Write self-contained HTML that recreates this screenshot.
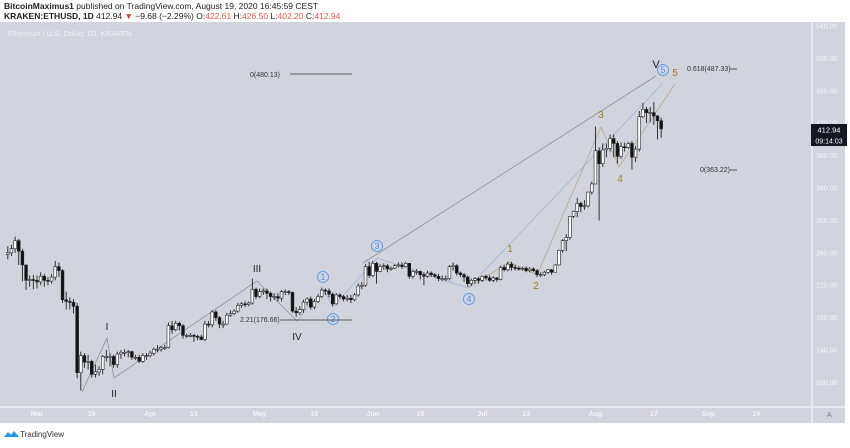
<!DOCTYPE html>
<html><head><meta charset="utf-8"><style>
body{margin:0;width:850px;height:443px;background:#fff;overflow:hidden;font-family:"Liberation Sans",sans-serif}
</style></head><body>
<svg id="c" width="850" height="443" xmlns="http://www.w3.org/2000/svg" font-family="Liberation Sans, sans-serif">
<rect x="0" y="22" width="845" height="401" fill="#d1d4dc"/>
<line x1="812" y1="22" x2="812" y2="423" stroke="#eef0f4" stroke-width="1.5"/>
<line x1="0" y1="407" x2="845" y2="407" stroke="#eef0f4" stroke-width="1.5"/>
<text x="4" y="9" font-size="8.5" fill="#222"><tspan font-weight="bold">BitcoinMaximus1</tspan> published on TradingView.com, August 19, 2020 16:45:59 CEST</text>
<text x="4" y="19" font-size="8.5" fill="#222"><tspan font-weight="bold">KRAKEN:ETHUSD, 1D</tspan> 412.94 <tspan fill="#e53935">▼</tspan> −9.68 (−2.29%) O:<tspan fill="#ef5350">422.61</tspan> H:<tspan fill="#ef5350">426.50</tspan> L:<tspan fill="#ef5350">402.20</tspan> C:<tspan fill="#ef5350">412.94</tspan></text>
<text x="8" y="36" font-size="7.5" fill="#f0f2f6">Ethereum / U.S. Dollar, 1D, KRAKEN</text>
<g id="yax"></g><g id="xax"></g><g id="ann"></g><g id="candles"></g><g id="lbl"></g>
<g><path d="M4 437 l4 -5 l3 3 l3 -4 l5 6 z" fill="#2196f3"/><text x="20" y="437" font-size="8" fill="#333">TradingView</text></g>
<text x="827" y="417" font-size="7" fill="#777">A</text>
</svg>
<script>
const closes=[260,265,275,262,245,226,227,226,
224,231,226,225,230,243,238,202,200,199,194,112,133,125,126,110,113,116,132,132,132,122,135,137,137,138,131,131,126,133,133,
136,141,141,143,143,170,165,173,170,158,158,158,157,156,153,172,171,187,180,172,172,183,185,188,195,197,196,198,215,206,
212,213,210,206,206,204,212,212,211,188,186,190,199,203,193,200,206,214,213,209,197,208,206,203,204,202,208,219,220,243,232,
247,237,243,244,240,241,244,245,243,247,231,237,237,233,231,235,233,231,228,228,228,243,244,235,233,230,222,226,228,226,
231,229,226,229,227,242,239,246,242,241,240,241,238,240,238,233,233,236,239,236,245,263,275,279,305,311,321,317,318,335,345,
386,370,387,389,401,395,379,391,390,395,378,388,428,437,433,433,429,423,413];
const highs=[268,270,280,277,265,240,232,233,
232,236,234,230,234,250,248,240,212,205,203,198,138,136,134,128,122,120,134,140,136,134,138,140,141,140,139,134,134,136,136,
139,143,146,145,146,174,176,176,175,172,160,161,160,159,159,176,176,189,189,182,176,186,189,190,198,199,200,200,228,217,
216,216,216,212,210,210,214,215,214,212,193,194,202,205,206,203,209,217,216,216,211,210,210,208,208,208,210,222,224,246,249,
250,249,246,247,246,243,246,248,248,249,247,239,240,238,236,238,237,235,234,232,232,245,248,246,237,235,232,228,230,230,
232,233,232,231,230,244,245,249,249,245,243,243,243,242,242,240,236,238,240,240,246,264,277,283,305,312,328,323,325,335,348,
416,390,395,395,406,406,398,396,396,397,398,392,435,445,440,440,446,430,427];
const lows=[252,256,260,245,225,214,218,215,
216,220,218,220,222,226,230,198,190,190,185,105,90,118,116,106,106,108,110,126,120,118,118,129,132,131,128,128,124,124,128,
131,133,137,138,140,142,160,163,164,154,155,156,150,152,152,151,168,168,176,167,167,171,181,183,186,192,193,194,196,203,
204,208,203,200,202,200,200,208,208,186,181,183,186,195,190,190,198,204,208,205,194,196,203,200,200,198,200,206,215,218,229,
230,222,236,239,236,238,240,242,240,242,228,228,233,227,220,229,230,229,225,225,225,226,238,232,230,224,218,219,222,222,
224,226,224,224,224,226,237,237,238,238,238,238,236,236,236,230,230,231,234,233,236,244,260,262,276,303,304,310,313,316,332,
346,300,366,378,385,378,370,376,385,388,363,372,385,426,420,421,418,400,402];
const yTicks=[540,500,460,420,380,340,300,260,220,180,140,100];
const xTickLabels=["Mar","16","Apr","13","May","18","Jun","15","Jul","13","Aug","17","Sep","14"];
const xTickDays=[8,23,39,51,69,84,100,113,130,142,161,177,192,205];
const NS="http://www.w3.org/2000/svg";
const X=d=>37+(d-8)*3.65, Y=v=>26+(540-v)*0.81;
function mk(t,a,p){const e=document.createElementNS(NS,t);for(const k in a)e.setAttribute(k,a[k]);p.appendChild(e);return e;}
const yax=document.getElementById('yax');
yTicks.forEach(v=>{const t=mk('text',{x:816,y:Y(v)+2.5,'font-size':7,fill:'#f4f5f8'},yax);t.textContent=v.toFixed(2);

});
const xax=document.getElementById('xax');
xTickLabels.forEach((s,i)=>{const t=mk('text',{x:X(xTickDays[i]),y:416,'font-size':7,fill:'#f4f5f8','text-anchor':'middle','font-weight':'bold'},xax);t.textContent=s;

});
const cg=document.getElementById('candles');
closes.forEach((c,i)=>{const o=i?closes[i-1]:258;const x=X(i);const up=c>=o;
const g=mk('g',{},cg);


mk('line',{x1:x,x2:x,y1:Y(highs[i]),y2:Y(lows[i]),stroke:'#222','stroke-width':0.9},g);
const t=Y(Math.max(o,c)),b=Y(Math.min(o,c));
mk('rect',{x:x-1.4,y:t,width:2.8,height:Math.max(b-t,1),fill:up?'#fff':'#111',stroke:'#222','stroke-width':0.6},g);});
const an=document.getElementById('ann');
function pl(pts,col,name){const p=mk('polyline',{points:pts.map(q=>q.join(',')).join(' '),fill:'none',stroke:col,'stroke-width':0.8},an);

}
pl([[82,392],[107,338],[114,378],[257,281],[297,321]],'#8e9096','wave-roman-line');
pl([[363,263],[656,76]],'#8e9096','wave-v-line');
pl([[297,321],[323,289],[333,307],[377,258],[468,288],[663,83]],'#9db6d8','wave-circled-line');
pl([[468,288],[509,262],[537,275],[601,127],[619,167],[675,84]],'#b8a98a','wave-minor-line');
const lb=document.getElementById('lbl');
function tx(x,y,s,size,col,name,anchor){const t=mk('text',{x:x,y:y,'font-size':size,fill:col,'text-anchor':anchor||'middle'},lb);t.textContent=s;

return t;}
tx(107,330,'I',10,'#222','wave-label-i');tx(114,397,'II',10,'#222','wave-label-ii');tx(257,272,'III',10,'#222','wave-label-iii');tx(297,340,'IV',10,'#222','wave-label-iv');tx(656,68,'V',11,'#222','wave-label-v');
[[323,277,'1'],[333,319,'2'],[377,246,'3'],[469,299,'4'],[663,70,'5']].forEach(a=>{const c=mk('circle',{cx:a[0],cy:a[1],r:5.5,fill:'none',stroke:'#4a8ff0','stroke-width':0.8},lb);


tx(a[0],a[1]+3.2,a[2],9,'#4a8ff0','circled-wave-label');});
[[510,252,'1'],[536,289,'2'],[601,118,'3'],[620,182,'4'],[675,76,'5']].forEach(a=>tx(a[0],a[1],a[2],10,'#a07c1e','minor-wave-label'));
function hl(x1,x2,y,name){const l=mk('line',{x1:x1,x2:x2,y1:y,y2:y,stroke:'#333','stroke-width':0.8},lb);

}
tx(250,77,'0(480.13)',7,'#333','fib-label-480','start');hl(290,352,74,'fib-line-480');
tx(687,71,'0.618(487.33)',7,'#333','fib-label-487','start');hl(730,737,69,'fib-line-487');
tx(700,172,'0(363.22)',7,'#333','fib-label-363','start');hl(730,737,170,'fib-line-363');
tx(240,322,'2.21(176.66)',7,'#333','fib-label-176','start');hl(280,352,320,'fib-line-176');
mk('rect',{x:811,y:124,width:36,height:11,fill:'#131722'},lb);
tx(829,132.5,'412.94',7.5,'#fff','last-price-label');
mk('rect',{x:811,y:135,width:36,height:11,fill:'#131722'},lb);
tx(829,143.5,'09:14:03',7,'#fff','countdown-label');
</script>
</body></html>
